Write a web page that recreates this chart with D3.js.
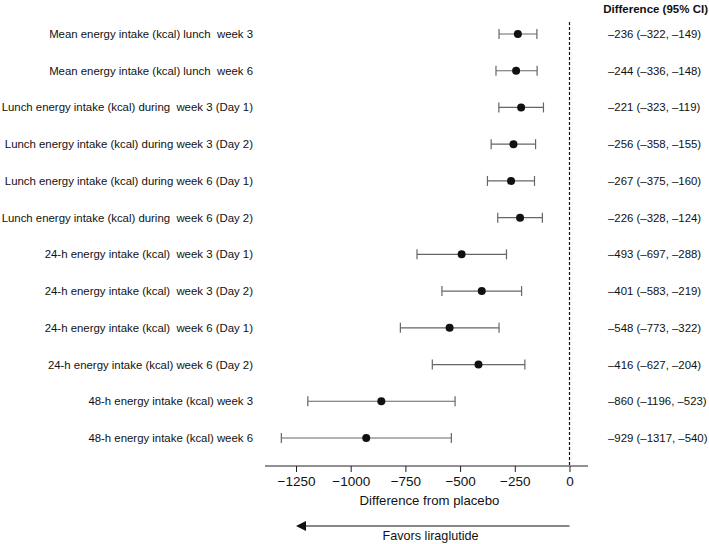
<!DOCTYPE html>
<html><head><meta charset="utf-8">
<script src="https://cdn.jsdelivr.net/npm/d3@7"></script>
<style>body{margin:0;background:#fff}svg{display:block}text{font-family:"Liberation Sans",Arial,Helvetica,sans-serif}</style>
</head><body><svg id="c" width="709" height="544"></svg>
<script>
const labels = [
 "Mean energy intake (kcal) lunch  week 3",
 "Mean energy intake (kcal) lunch  week 6",
 "Lunch energy intake (kcal) during  week 3 (Day 1)",
 "Lunch energy intake (kcal) during week 3 (Day 2)",
 "Lunch energy intake (kcal) during week 6 (Day 1)",
 "Lunch energy intake (kcal) during  week 6 (Day 2)",
 "24-h energy intake (kcal)  week 3 (Day 1)",
 "24-h energy intake (kcal)  week 3 (Day 2)",
 "24-h energy intake (kcal)  week 6 (Day 1)",
 "24-h energy intake (kcal) week 6 (Day 2)",
 "48-h energy intake (kcal) week 3",
 "48-h energy intake (kcal) week 6"];
const est = [-236,-244,-221,-256,-267,-226,-493,-401,-548,-416,-860,-929];
const lo  = [-322,-336,-323,-358,-375,-328,-697,-583,-773,-627,-1196,-1317];
const hi  = [-149,-148,-119,-155,-160,-124,-288,-219,-322,-204,-523,-540];
const ticks = [-1250,-1000,-750,-500,-250,0];

const svg = d3.select("#c");
const x = d3.scaleLinear().domain([-1250,0]).range([296,569.5]);
const y = d3.scalePoint().domain(d3.range(labels.length)).range([34,438]);
const fmt = v => String(v).replace("-", "\u2013");

// dashed zero line
svg.append("line").attr("x1",x(0)).attr("x2",x(0)).attr("y1",22).attr("y2",466)
  .attr("stroke","#111").attr("stroke-width",1.2).attr("stroke-dasharray","3,2");

// axis
const ax = svg.append("g").attr("transform","translate(0,466)")
  .call(d3.axisBottom(x).tickValues(ticks).tickSize(6).tickSizeOuter(0).tickFormat(d=>d===0?"0":"\u2212"+Math.abs(d)));
ax.select(".domain").remove();
ax.selectAll(".tick line").attr("stroke","#222");
ax.selectAll(".tick text").attr("font-size",13.5).attr("fill","#111").attr("dy","0.85em");
svg.append("line").attr("x1",265).attr("x2",588).attr("y1",466).attr("y2",466).attr("stroke","#222").attr("stroke-width",1);

svg.append("text").attr("x",x(-640)).attr("y",505).attr("text-anchor","middle").attr("font-size",13.2).attr("fill","#111").text("Difference from placebo");
// arrow
svg.append("line").attr("x1",x(0)).attr("x2",x(-1250)+8).attr("y1",526).attr("y2",526).attr("stroke","#111").attr("stroke-width",1);
svg.append("path").attr("d",`M${x(-1250)},526 l10,-5 l0,10 z`).attr("fill","#111");
svg.append("text").attr("x",x(-635)).attr("y",540).attr("text-anchor","middle").attr("font-size",12.6).attr("fill","#111").text("Favors liraglutide");

const rows = svg.append("g").selectAll("g").data(labels).join("g");
rows.append("text").attr("x",253).attr("y",(d,i)=>y(i)).attr("dy","0.35em").attr("text-anchor","end")
  .attr("font-size",11.4).attr("fill","#111").style("white-space","pre").text(d=>d);
rows.append("line").attr("x1",(d,i)=>x(lo[i])).attr("x2",(d,i)=>x(hi[i])).attr("y1",(d,i)=>y(i)).attr("y2",(d,i)=>y(i)).attr("stroke","#666").attr("stroke-width",1.2);
rows.append("line").attr("x1",(d,i)=>x(lo[i])).attr("x2",(d,i)=>x(lo[i])).attr("y1",(d,i)=>y(i)-5).attr("y2",(d,i)=>y(i)+5).attr("stroke","#666").attr("stroke-width",1.2);
rows.append("line").attr("x1",(d,i)=>x(hi[i])).attr("x2",(d,i)=>x(hi[i])).attr("y1",(d,i)=>y(i)-5).attr("y2",(d,i)=>y(i)+5).attr("stroke","#666").attr("stroke-width",1.2);
rows.append("circle").attr("cx",(d,i)=>x(est[i])).attr("cy",(d,i)=>y(i)).attr("r",4).attr("fill","#111");
rows.append("text").attr("x",608).attr("y",(d,i)=>y(i)).attr("dy","0.35em").attr("font-size",11.4).attr("fill","#111")
  .text((d,i)=>`${fmt(est[i])} (${fmt(lo[i])}, ${fmt(hi[i])})`);

svg.append("text").attr("x",708).attr("y",9).attr("dy","0.35em").attr("text-anchor","end").attr("font-size",11.5).attr("font-weight","bold").attr("fill","#111").text("Difference (95% CI)");
</script></body></html>
